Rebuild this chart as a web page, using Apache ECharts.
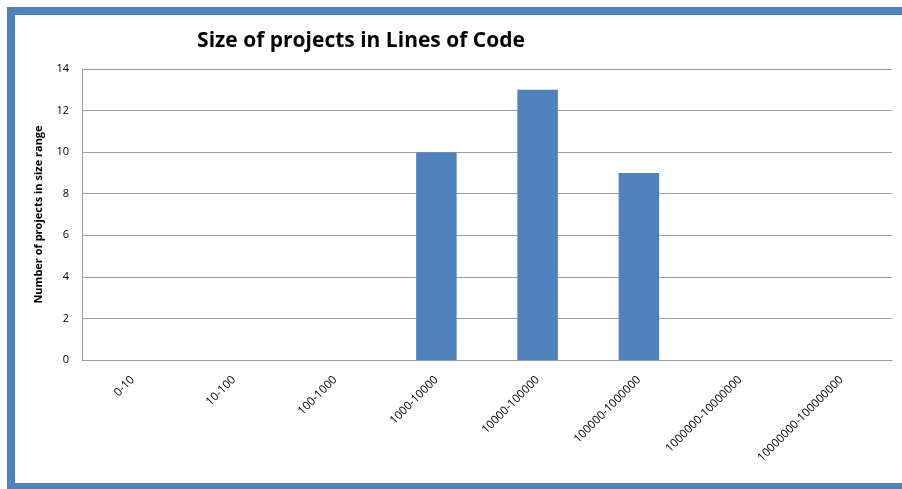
<!DOCTYPE html>
<html>
<head>
<meta charset="utf-8">
<script src="https://cdn.jsdelivr.net/npm/echarts@6/dist/echarts.min.js"></script>
<style>
  html, body { margin: 0; padding: 0; background: #fff; }
  #chart { width: 902px; height: 489px; }
</style>
</head>
<body>
<div id="chart"></div>
<script>
// size ranges (lines of code)
const categories = ["0-10", "10-100", "100-1000", "1000-10000", "10000-100000",
  "100000-1000000", "1000000-10000000", "10000000-100000000"];
// number of projects per range
const projectCounts = [0, 0, 0, 10, 13, 9, 0, 0];
const yTicks = [0, 2, 4, 6, 8, 10, 12, 14];

const FONT = "Open Sans";
const frameColor = "#4F81BD";

let chart = echarts.init(document.getElementById("chart"));
let option = {
  animation: false,
  backgroundColor: "#fff",
  title: {
    text: "Size of projects in Lines of Code",
    left: 356,
    top: 26,
    textAlign: "center",
    textStyle: { fontFamily: FONT, fontSize: 21, fontWeight: "bold", color: "#000" }
  },
  grid: { left: 82, top: 69, right: 10, bottom: 129, containLabel: false },
  xAxis: {
    type: "category",
    data: categories,
    axisLine: { lineStyle: { color: "#A0A0A0", width: 1 } },
    axisTick: { show: false },
    axisLabel: {
      rotate: 45,
      interval: 0,
      margin: 18,
      fontFamily: FONT,
      fontSize: 11.5,
      color: "#000"
    }
  },
  yAxis: {
    type: "value",
    min: yTicks[0],
    max: yTicks[yTicks.length - 1],
    interval: 2,
    name: "Number of projects in size range",
    nameLocation: "middle",
    nameGap: 38,
    nameRotate: 90,
    nameTextStyle: { fontFamily: FONT, fontSize: 11, fontWeight: "bold", color: "#000" },
    axisLine: { show: true, lineStyle: { color: "#A0A0A0", width: 1 } },
    axisTick: { show: false },
    axisLabel: { margin: 13, fontFamily: FONT, fontSize: 11, color: "#000" },
    splitLine: { lineStyle: { color: "#A0A0A0", width: 1 } }
  },
  series: [{
    type: "bar",
    data: projectCounts,
    barWidth: "40%",
    itemStyle: { color: "#4F81BD" }
  }],
  graphic: [
    { type: "rect", shape: { x: 7, y: 7, width: 8, height: 482 }, style: { fill: frameColor } },
    { type: "rect", shape: { x: 7, y: 7, width: 895, height: 8 }, style: { fill: frameColor } },
    { type: "rect", shape: { x: 7, y: 483, width: 895, height: 6 }, style: { fill: frameColor } }
  ]
};
chart.setOption(option);
</script>
</body>
</html>
